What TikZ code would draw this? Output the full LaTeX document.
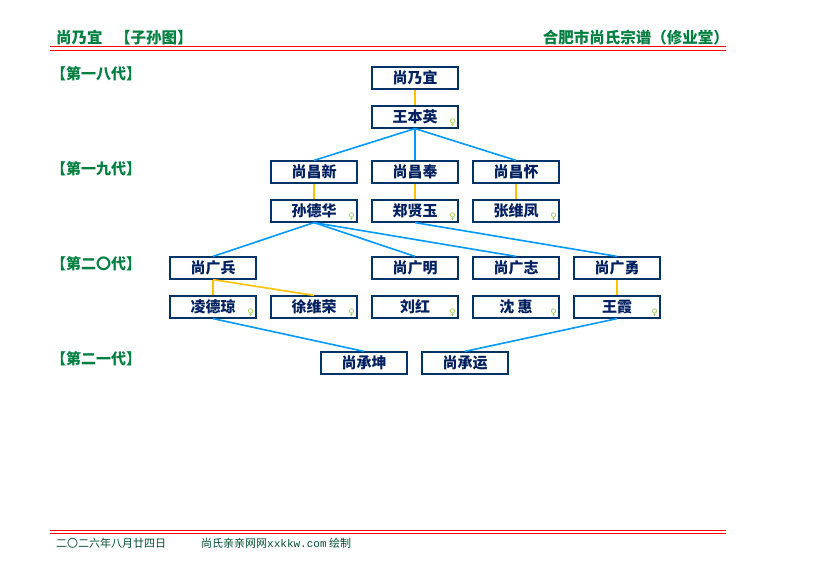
\documentclass[tikz,border=0pt]{standalone}
\usepackage{fontspec}
\setmainfont{Noto Sans CJK SC}
\newfontfamily\symfont{DejaVu Sans}
\newfontfamily\webfont{Liberation Mono}
\usetikzlibrary{positioning}
\definecolor{hdgreen}{RGB}{0,128,64}
\definecolor{ftgreen}{RGB}{0,80,50}
\definecolor{boxline}{RGB}{0,51,102}
\definecolor{boxtext}{RGB}{0,32,96}
\definecolor{kinblue}{RGB}{0,153,255}
\definecolor{wedgold}{RGB}{255,192,0}
\definecolor{femgreen}{RGB}{146,208,80}
\definecolor{rulered}{RGB}{255,0,0}

\begin{document}
\begin{tikzpicture}[x=1pt, y=-1pt,
  main/.style = {draw=boxline, line width=1.2pt, fill=white, minimum width=86pt, minimum height=22pt, inner sep=0pt, text=boxtext, font=\bfseries\fontsize{15}{15}\selectfont},
  gen/.style = {anchor=west, text=hdgreen, inner sep=0pt, font=\bfseries\fontsize{15}{15}\selectfont},
  femsign/.style = {text=femgreen, inner sep=0pt, font=\symfont\fontsize{9}{9}\selectfont},
  kin/.style = {draw=kinblue, line width=1.6pt},
  wed/.style = {draw=wedgold, line width=1.6pt}]
      \useasboundingbox[fill=white] (0,0) rectangle (825,580);

      % header and footer
      \node[anchor=west, text=hdgreen, inner sep=0pt, font=\bfseries\fontsize{15.5}{15.5}\selectfont] (title) at (56,38) {尚乃宜\hspace{0.8em}【子孙图】};
      \node[anchor=east, text=hdgreen, inner sep=0pt, font=\bfseries\fontsize{15.5}{15.5}\selectfont] (clan) at (729,38) {合肥市尚氏宗谱（修业堂）};
      \draw[rulered, line width=1pt] (50,47) -- (726,47) (50,50.5) -- (726,50.5);
      \draw[rulered, line width=1pt] (50,530.5) -- (726,530.5) (50,533.5) -- (726,533.5);
      \node[anchor=west, text=ftgreen, inner sep=0pt, font=\fontsize{11}{11}\selectfont] (date) at (56,543) {二〇二六年八月廿四日};
      \node[anchor=west, text=ftgreen, inner sep=0pt, font=\fontsize{11}{11}\selectfont] (site) at (201,543) {尚氏亲亲网网{\webfont xxkkw.com} 绘制};

      % generations
      \node[gen] (g18) at (51,74)  {【第一八代】};
      \node[gen] (g19) at (51,169) {【第一九代】};
      \node[gen] (g20) at (51,264) {【第二〇代】};
      \node[gen] (g21) at (51,359) {【第二一代】};

      \node[main] (1)  at (415,78)  {尚乃宜};
      \node[main] (2)  at (415,117) {王本英};
      \node[main] (3)  at (314,172) {尚昌新};
      \node[main] (4)  at (415,172) {尚昌奉};
      \node[main] (5)  at (516,172) {尚昌怀};
      \node[main] (6)  at (314,211) {孙德华};
      \node[main] (7)  at (415,211) {郑贤玉};
      \node[main] (8)  at (516,211) {张维凤};
      \node[main] (9)  at (213,268) {尚广兵};
      \node[main] (10) at (415,268) {尚广明};
      \node[main] (11) at (516,268) {尚广志};
      \node[main] (12) at (617,268) {尚广勇};
      \node[main] (13) at (213,307) {凌德琼};
      \node[main] (14) at (314,307) {徐维荣};
      \node[main] (15) at (415,307) {刘红};
      \node[main] (16) at (516,307) {沈\ 惠};
      \node[main] (17) at (617,307) {王霞};
      \node[main] (18) at (364,363) {尚承坤};
      \node[main] (19) at (465,363) {尚承运};

      \foreach \w in {2,6,7,8,13,14,15,16,17}
        \node[femsign] at ([xshift=-6pt,yshift=6pt]\w.south east) {♀};

      \path[wed]
      (1.south)  edge (2.north)
      (3.south)  edge (6.north)
      (4.south)  edge (7.north)
      (5.south)  edge (8.north)
      (9.south)  edge (13.north)
      (9.south)  edge (14.north)
      (12.south) edge (17.north);

      \path[kin]
      (2.south)  edge (3.north)
      (2.south)  edge (4.north)
      (2.south)  edge (5.north)
      (6.south)  edge (9.north)
      (6.south)  edge (10.north)
      (6.south)  edge (11.north)
      (7.south)  edge (12.north)
      (13.south) edge (18.north)
      (17.south) edge (19.north);

    \end{tikzpicture}
\end{document}
